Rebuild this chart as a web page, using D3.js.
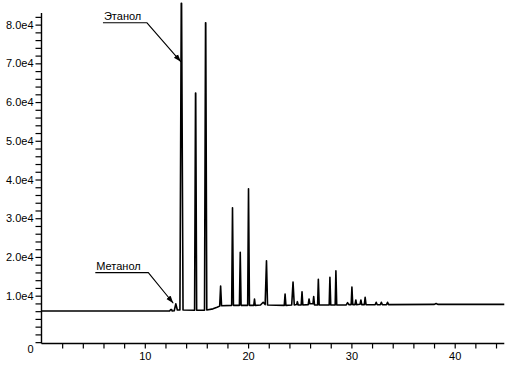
<!DOCTYPE html>
<html><head><meta charset="utf-8">
<script src="https://cdn.jsdelivr.net/npm/d3@7"></script>
<style>
html,body{margin:0;padding:0;background:#fff;}
svg{display:block;font-family:"Liberation Sans",Arial,sans-serif;}
</style></head>
<body><svg id="c" width="512" height="368"></svg>
<script>
// retention time (min)
const times = [0,12.4,12.5,12.6,12.65,12.85,13.0,13.15,13.40,13.53,13.56,13.70,14.82,14.91,14.93,15.02,15.78,15.88,15.90,16.0,16.6,17.0,17.25,17.34,17.43,18.41,18.49,18.58,19.16,19.24,19.32,19.96,20.04,20.13,20.55,20.62,20.69,21.2,21.46,21.65,21.78,21.88,23.5,23.58,23.66,24.22,24.35,24.47,24.7,24.77,24.85,25.14,25.22,25.3,25.82,25.9,25.98,26.28,26.35,26.43,26.73,26.8,26.88,27.85,27.92,28.0,28.43,28.5,28.58,29.5,29.63,29.75,29.98,30.05,30.13,30.35,30.43,30.5,30.84,30.92,31.0,31.25,31.33,31.42,32.3,32.4,32.5,32.8,32.9,33.0,33.4,33.5,33.6,38.0,38.2,38.4,44.8];
// detector signal
const signal = [6050,6050,6400,6400,6050,6100,7900,6300,6300,85500,85500,6300,6250,62300,62300,6250,6250,80500,80500,6300,6600,7000,7300,12500,7400,7500,32700,7500,7500,21200,7500,7500,37600,7500,7500,9150,7500,7600,8300,7700,19000,7600,7500,10400,7500,7600,13500,7600,7700,8450,7600,7600,11000,7600,7700,9150,7900,7900,9750,7600,7600,14250,7600,7600,14750,7600,7600,16400,7600,7600,8200,7700,7700,12200,7700,7700,8900,7700,7800,8900,7700,7700,9600,7650,7650,8300,7650,7650,8300,7650,7700,8300,7700,7750,7950,7750,7750];

const yTickValues = d3.range(-2000, 82001, 2000);
const yLabelValues = [10000,20000,30000,40000,50000,60000,70000,80000];
const yLabels = ["1.0e4","2.0e4","3.0e4","4.0e4","5.0e4","6.0e4","7.0e4","8.0e4"];
const originLabel = "0";
const xTickValues = d3.range(2, 45, 2);
const xLabelValues = [10,20,30,40];

const annotations = [
  {label:"Этанол", t:13.5, v:70400, dx:-34, dy:-39, tw:42},
  {label:"Метанол", t:12.76, v:8040, dx:-25, dy:-30.6, tw:51}
];

const svg = d3.select("#c");
const x = d3.scaleLinear().domain([0, 44.8]).range([41.5, 41.5 + 44.8*10.33]);
const y = d3.scaleLinear().domain([-2350, 83000]).range([343.5, 13]);

// axes
const yAxis = d3.axisLeft(y).tickValues(yTickValues).tickSize(6).tickPadding(2)
  .tickFormat(d => { const i = yLabelValues.indexOf(d); return i >= 0 ? yLabels[i] : ""; });
const gy = svg.append("g").attr("transform", `translate(${x(0)},0)`).call(yAxis);
const xAxis = d3.axisBottom(x).tickValues(xTickValues).tickSize(5).tickPadding(4)
  .tickFormat(d => xLabelValues.includes(d) ? String(d) : "");
const gx = svg.append("g").attr("transform", `translate(0,${y.range()[0]})`).call(xAxis);
[gx, gy].forEach(g => {
  g.select(".domain").attr("stroke","#000").attr("stroke-width",1.4).attr("d", null);
  g.selectAll(".tick line").attr("stroke","#000").attr("stroke-width",1.2);
  g.selectAll("text").attr("font-size",11).attr("fill","#000")
    .attr("font-family",'"Liberation Sans",Arial,sans-serif');
});
gy.select(".domain").attr("d", `M0,${y.range()[0]}V${y.range()[1]}`);
gx.select(".domain").attr("d", `M${x(0)},0H${x.range()[1]}`);
svg.append("text").attr("x", 33.5).attr("y", 353).attr("text-anchor","end")
  .attr("font-size",11).text(originLabel);

// chromatogram
const pts = times.map((t,i)=>[t, signal[i]]);
svg.append("path").datum(pts)
  .attr("fill","none").attr("stroke","#000").attr("stroke-width",1.6)
  .attr("stroke-linejoin","round")
  .attr("d", d3.line().x(d=>x(d[0])).y(d=>y(d[1])));

// arrow marker
svg.append("defs").append("marker").attr("id","arr")
  .attr("viewBox","0 0 10 10").attr("refX",10).attr("refY",5)
  .attr("markerWidth",7).attr("markerHeight",7).attr("orient","auto")
  .append("path").attr("d","M0,1.5L10,5L0,8.5Z").attr("fill","#000");

annotations.forEach(a => {
  const tx = x(a.t), ty = y(a.v);
  const ex = tx + a.dx, ey = ty + a.dy;
  svg.append("path")
    .attr("d", `M${ex - a.tw - 2},${ey}H${ex}L${tx},${ty}`)
    .attr("fill","none").attr("stroke","#000").attr("stroke-width",1.1)
    .attr("marker-end","url(#arr)");
  svg.append("text").attr("x", ex - a.tw - 1).attr("y", ey - 2.5)
    .attr("font-size",11).attr("fill","#000").text(a.label);
});
</script></body></html>
